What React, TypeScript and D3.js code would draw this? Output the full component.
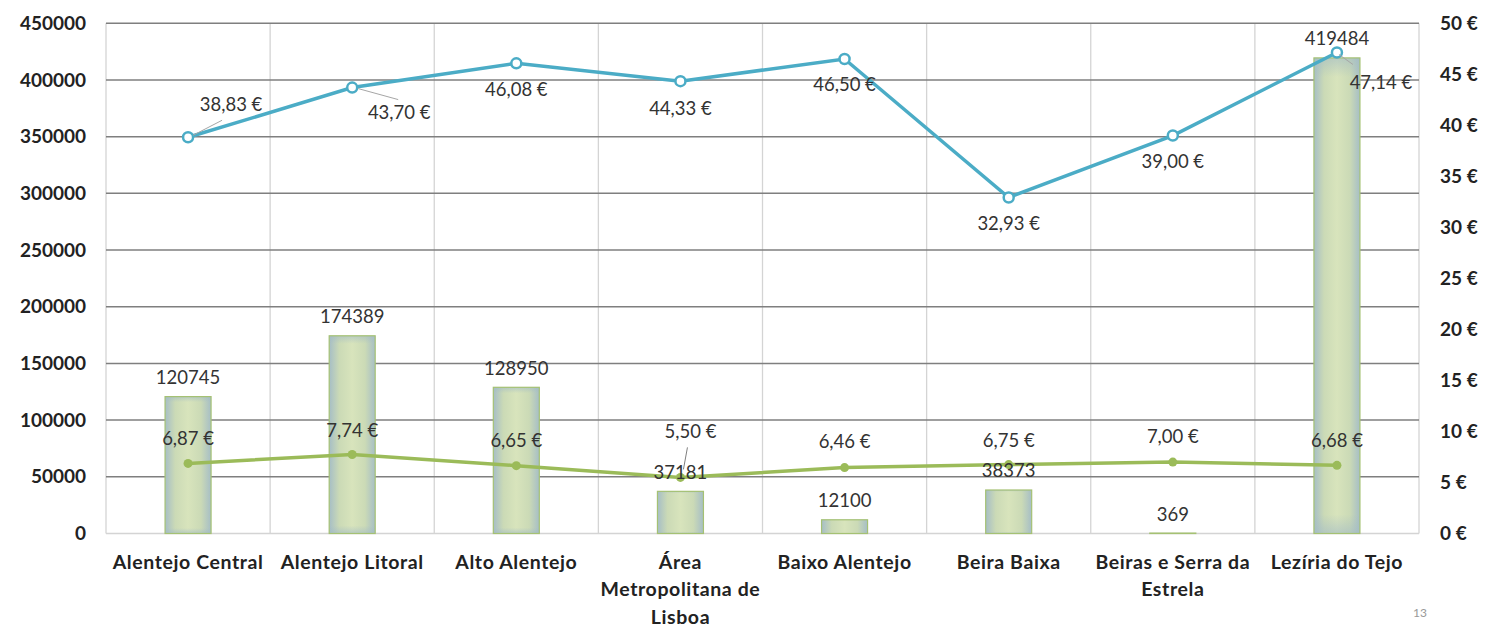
import React from "react";
import * as d3 from "d3";

const categories = [
  ["Alentejo Central"],
  ["Alentejo Litoral"],
  ["Alto Alentejo"],
  ["Área", "Metropolitana de", "Lisboa"],
  ["Baixo Alentejo"],
  ["Beira Baixa"],
  ["Beiras e Serra da", "Estrela"],
  ["Lezíria do Tejo"],
];
const barValues = [120745, 174389, 128950, 37181, 12100, 38373, 369, 419484];
const blueValues = [38.83, 43.7, 46.08, 44.33, 46.5, 32.93, 39.0, 47.14];
const greenValues = [6.87, 7.74, 6.65, 5.5, 6.46, 6.75, 7.0, 6.68];
const leftTicks = [0, 50000, 100000, 150000, 200000, 250000, 300000, 350000, 400000, 450000];
const rightTicks = [0, 5, 10, 15, 20, 25, 30, 35, 40, 45, 50];

// label layout offsets (relative to marker)
const blueLabelOffsets = [[43, -33], [47, 25], [0, 26], [0, 27], [0, 26], [0, 26], [0, 26], [44, 30]];
const greenLabelOffsets = [[0, -25], [0, -24], [0, -25], [10, -46], [0, -26], [0, -24], [0, -26], [0, -25]];
const blueLeaders: (number[] | null)[] = [[5, -2, 34, -17], [6, 1, 46, 12], null, null, null, null, null, [2, 2, 16, 12]];
const greenLeaders: (number[] | null)[] = [null, null, null, [7, -30, 3, -8], null, null, null, null];

const fmtEuro = (v: number) => v.toFixed(2).replace(".", ",") + " €";

export default function App() {
  const W = 1506, H = 633;
  const L = 106, R = 1419, T = 23.3, B = 533.5;
  const font = "Lato, 'Open Sans', sans-serif";

  const x = d3.scaleBand<number>().domain(d3.range(categories.length)).range([L, R]).padding(0);
  const yL = d3.scaleLinear().domain([0, 450000]).range([B, T]);
  const yR = d3.scaleLinear().domain([0, 50]).range([B, T]);
  const cx = (i: number) => (x(i) as number) + x.bandwidth() / 2;
  const barW = 46;

  const blueLine = d3.line<number>().x((_, i) => cx(i)).y((d) => yR(d));
  const greenLine = d3.line<number>().x((_, i) => cx(i)).y((d) => yR(d));

  return (
    <svg width={W} height={H} style={{ position: "absolute", left: 0, top: 0, background: "#fff" }}>
      <defs>
        <linearGradient id="barH" x1="0" x2="1" y1="0" y2="0">
          <stop offset="0%" stopColor="#a6bec6" />
          <stop offset="22%" stopColor="#cbdab6" />
          <stop offset="50%" stopColor="#d8e4bc" />
          <stop offset="78%" stopColor="#cbdab6" />
          <stop offset="100%" stopColor="#a6bec6" />
        </linearGradient>
        <linearGradient id="barV" x1="0" x2="0" y1="0" y2="1">
          <stop offset="0%" stopColor="#a3bcc6" stopOpacity="0.6" />
          <stop offset="4%" stopColor="#a3bcc6" stopOpacity="0" />
          <stop offset="96%" stopColor="#a3bcc6" stopOpacity="0" />
          <stop offset="100%" stopColor="#a3bcc6" stopOpacity="0.6" />
        </linearGradient>
      </defs>

      {/* vertical gridlines */}
      {d3.range(categories.length + 1).map((i) => {
        const xx = i === categories.length ? R : (x(i) as number);
        return <line key={"vg" + i} x1={xx} x2={xx} y1={T} y2={B} stroke="#d4d4d4" strokeWidth={1.3} />;
      })}
      {/* horizontal gridlines */}
      {leftTicks.map((t) =>
        t === 0 ? null : (
          <line key={"hg" + t} x1={L} x2={R} y1={yL(t)} y2={yL(t)} stroke="#7f7f7f" strokeWidth={1.5} />
        )
      )}
      <line x1={L} x2={R} y1={B} y2={B} stroke="#d4d4d4" strokeWidth={1.5} />

      {/* left axis labels */}
      {leftTicks.map((t) => (
        <text key={"lt" + t} x={86} y={yL(t)} dy="0.35em" textAnchor="end" fontFamily={font} fontWeight="bold" fontSize={19} fill="#222">
          {t}
        </text>
      ))}
      {/* right axis labels */}
      {rightTicks.map((t) => (
        <text key={"rt" + t} x={1440} y={yR(t)} dy="0.35em" textAnchor="start" fontFamily={font} fontWeight="bold" fontSize={19} fill="#222">
          {t + " €"}
        </text>
      ))}

      {/* bars */}
      {barValues.map((v, i) => (
        <g key={"b" + i}>
          <rect x={cx(i) - barW / 2} y={yL(v)} width={barW} height={B - yL(v)} fill="url(#barH)" />
          <rect x={cx(i) - barW / 2} y={yL(v)} width={barW} height={B - yL(v)} fill="url(#barV)" stroke="#a5c173" strokeWidth={1.2} />
        </g>
      ))}

      {/* green line */}
      <path d={greenLine(greenValues) || ""} fill="none" stroke="#9bbb59" strokeWidth={3.5} />
      {greenValues.map((v, i) => (
        <circle key={"gm" + i} cx={cx(i)} cy={yR(v)} r={4.5} fill="#9bbb59" />
      ))}

      {/* blue line */}
      <path d={blueLine(blueValues) || ""} fill="none" stroke="#4bacc6" strokeWidth={3.5} />
      {blueValues.map((v, i) => (
        <circle key={"bm" + i} cx={cx(i)} cy={yR(v)} r={5} fill="#fff" stroke="#4bacc6" strokeWidth={2.5} />
      ))}

      {/* leader lines */}
      {blueLeaders.map((l, i) =>
        l ? (
          <line key={"bl" + i} x1={cx(i) + l[0]} y1={yR(blueValues[i]) + l[1]} x2={cx(i) + l[2]} y2={yR(blueValues[i]) + l[3]} stroke="#a6a6a6" strokeWidth={1} />
        ) : null
      )}
      {greenLeaders.map((l, i) =>
        l ? (
          <line key={"gl" + i} x1={cx(i) + l[0]} y1={yR(greenValues[i]) + l[1]} x2={cx(i) + l[2]} y2={yR(greenValues[i]) + l[3]} stroke="#7f7f7f" strokeWidth={1} />
        ) : null
      )}

      {/* bar labels */}
      {barValues.map((v, i) => (
        <text key={"bt" + i} x={cx(i)} y={yL(v) - 19} dy="0.35em" textAnchor="middle" fontFamily={font} fontSize={18.5} fill="#333">
          {v}
        </text>
      ))}
      {/* blue labels */}
      {blueValues.map((v, i) => (
        <text key={"blt" + i} x={cx(i) + blueLabelOffsets[i][0]} y={yR(v) + blueLabelOffsets[i][1]} dy="0.35em" textAnchor="middle" fontFamily={font} fontSize={18.5} fill="#333">
          {fmtEuro(v)}
        </text>
      ))}
      {/* green labels */}
      {greenValues.map((v, i) => (
        <text key={"glt" + i} x={cx(i) + greenLabelOffsets[i][0]} y={yR(v) + greenLabelOffsets[i][1]} dy="0.35em" textAnchor="middle" fontFamily={font} fontSize={18.5} fill="#333">
          {fmtEuro(v)}
        </text>
      ))}

      {/* category labels */}
      {categories.map((lines, i) => (
        <text key={"c" + i} x={cx(i)} y={562} textAnchor="middle" fontFamily={font} fontWeight="bold" fontSize={19.5} letterSpacing={0.6} fill="#222">
          {lines.map((ln, j) => (
            <tspan key={j} x={cx(i)} dy={j === 0 ? "0.35em" : 27.5}>
              {ln}
            </tspan>
          ))}
        </text>
      ))}

      <text x={1420} y={613} dy="0.35em" textAnchor="middle" fontFamily={font} fontSize={12} fill="#999">
        13
      </text>
    </svg>
  );
}
